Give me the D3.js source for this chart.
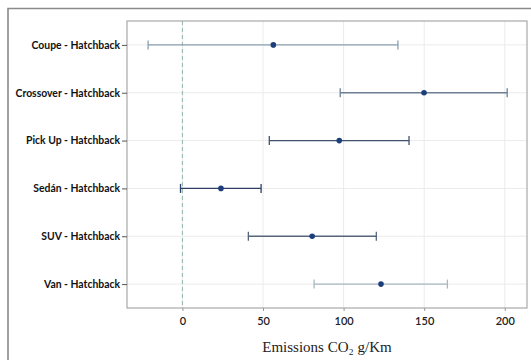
<!DOCTYPE html>
<html>
<head>
<meta charset="utf-8">
<script src="https://cdn.jsdelivr.net/npm/d3@7"></script>
<style>
  html, body { margin: 0; padding: 0; background: #fff; }
  svg { display: block; }
</style>
</head>
<body>
<svg id="chart" width="531" height="360"></svg>
<script>
// Estimated comparisons vs Hatchback (g/Km CO2)
const categories = ['Coupe - Hatchback', 'Crossover - Hatchback', 'Pick Up - Hatchback',
  'Sedán - Hatchback', 'SUV - Hatchback', 'Van - Hatchback']
const estimates = [56.4, 149.9, 97.3, 23.9, 80.5, 123.2]
const lower = [-21.3, 97.9, 53.9, -1.2, 40.9, 81.7]
const upper = [133.7, 201.5, 140.6, 48.8, 120.3, 164.4]
const barColors = ['#8b9fb0', '#6e7f93', '#3f5170', '#2e3f66', '#56667d', '#a9b8c1']
const xTicks = [0, 50, 100, 150, 200]

const rows = categories.map((c, i) => ({
  name: c, est: estimates[i], lo: lower[i], hi: upper[i], color: barColors[i]
}))

const svg = d3.select('#chart')

// outer frame (left + top only visible)
svg.append('path')
  .attr('d', 'M8,360V8.5H531')
  .attr('fill', 'none')
  .attr('stroke', '#8a8a8a')
  .attr('stroke-width', 1.6)

const panel = { left: 127, top: 21, right: 527, bottom: 308 }

const x = d3.scaleLinear()
  .domain([-34.4, 213.8])
  .range([panel.left, panel.right])

const y = d3.scalePoint()
  .domain(categories)
  .range([panel.top, panel.bottom])
  .padding(0.5)

const g = svg.append('g')

// grid
g.selectAll('line.vgrid')
  .data(xTicks)
  .enter().append('line')
  .attr('class', 'vgrid')
  .attr('x1', d => x(d)).attr('x2', d => x(d))
  .attr('y1', panel.top).attr('y2', panel.bottom)
  .attr('stroke', '#ebebeb')
  .attr('stroke-width', 1)

g.selectAll('line.hgrid')
  .data(categories)
  .enter().append('line')
  .attr('class', 'hgrid')
  .attr('x1', panel.left).attr('x2', panel.right)
  .attr('y1', d => y(d)).attr('y2', d => y(d))
  .attr('stroke', '#ebebeb')
  .attr('stroke-width', 1)

// zero reference
g.append('line')
  .attr('x1', x(0)).attr('x2', x(0))
  .attr('y1', panel.top).attr('y2', panel.bottom)
  .attr('stroke', '#9cbfae')
  .attr('stroke-width', 1.2)
  .attr('stroke-dasharray', '4,3')

// panel border
g.append('rect')
  .attr('x', panel.left).attr('y', panel.top)
  .attr('width', panel.right - panel.left)
  .attr('height', panel.bottom - panel.top)
  .attr('fill', 'none')
  .attr('stroke', '#a8a8a8')
  .attr('stroke-width', 1.2)

// error bars
const bars = g.selectAll('g.bar')
  .data(rows)
  .enter().append('g')
  .attr('class', 'bar')
  .attr('transform', d => `translate(0,${y(d.name)})`)

bars.append('line')
  .attr('x1', d => x(d.lo)).attr('x2', d => x(d.hi))
  .attr('stroke', d => d.color)
  .attr('stroke-width', 1.3)

bars.selectAll('line.cap')
  .data(d => [d.lo, d.hi].map(v => ({ v, color: d.color })))
  .enter().append('line')
  .attr('class', 'cap')
  .attr('x1', d => x(d.v)).attr('x2', d => x(d.v))
  .attr('y1', -4.5).attr('y2', 4.5)
  .attr('stroke', d => d.color)
  .attr('stroke-width', 1.3)

bars.append('circle')
  .attr('cx', d => x(d.est))
  .attr('r', 2.8)
  .attr('fill', '#1c3e7c')

// axes
const xAxis = d3.axisBottom(x).tickValues(xTicks).tickSize(3).tickPadding(6)
const xg = svg.append('g')
  .attr('transform', `translate(0,${panel.bottom})`)
  .call(xAxis)
xg.select('.domain').remove()
xg.selectAll('line').attr('stroke', '#999')
xg.selectAll('text')
  .attr('fill', '#222')
  .style('font-family', 'Lato, sans-serif')
  .style('font-size', '11px')
  .style('font-weight', '600')

const yAxis = d3.axisLeft(y).tickSize(5).tickPadding(2)
const yg = svg.append('g')
  .attr('transform', `translate(${panel.left},0)`)
  .call(yAxis)
yg.select('.domain').remove()
yg.selectAll('line').attr('stroke', '#555')
yg.selectAll('text')
  .attr('fill', '#111')
  .style('font-family', 'Lato, sans-serif')
  .style('font-size', '10.4px')
  .style('font-weight', '700')

svg.append('text')
  .attr('x', (panel.left + panel.right) / 2)
  .attr('y', 352)
  .attr('text-anchor', 'middle')
  .style('font-family', '"Liberation Serif", serif')
  .style('font-size', '15px')
  .attr('fill', '#222')
  .text('Emissions CO₂ g/Km')
</script>
</body>
</html>
